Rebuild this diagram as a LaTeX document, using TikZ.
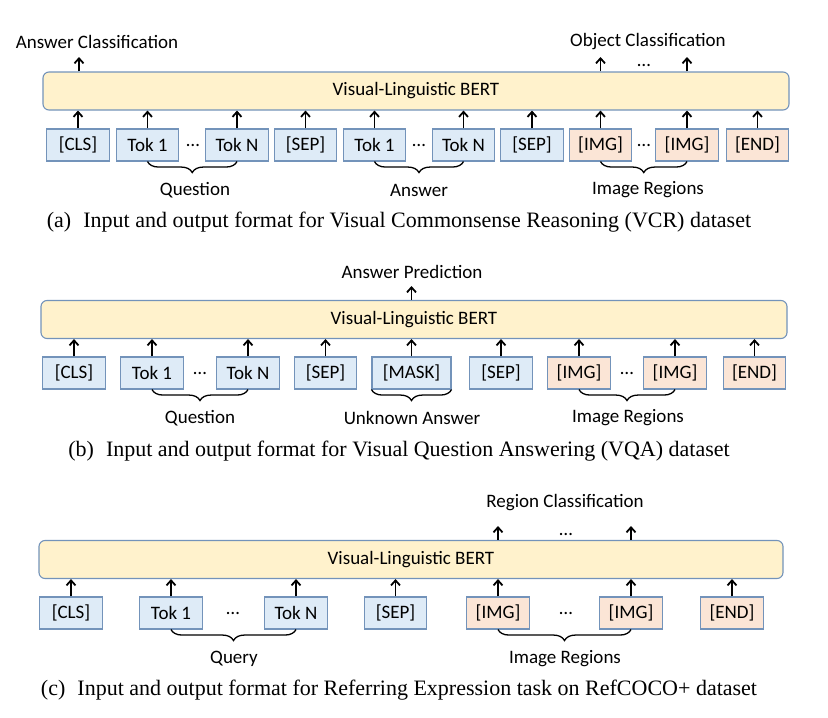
\documentclass[tikz,border=0pt]{standalone}
\usepackage{fontspec}
\setmainfont{Carlito}
\newfontfamily\capfont{Liberation Serif}
\usetikzlibrary{arrows.meta,decorations.pathreplacing}
\definecolor{tokblue}{HTML}{DEEBF7}
\definecolor{tokorange}{HTML}{FBE5D6}
\definecolor{bertfill}{HTML}{FFF2CC}
\definecolor{edgeblue}{HTML}{7393BA}
\tikzset{
  tok/.style={draw=edgeblue, line width=1.1pt, minimum width=62.5pt, minimum height=32pt, inner sep=0pt, font=\fontsize{19}{22}\selectfont},
  tokb/.style={tok, fill=tokblue},
  toko/.style={tok, fill=tokorange},
  bert/.style={draw=edgeblue, line width=1.1pt, fill=bertfill, rounded corners=6pt, minimum height=38pt, inner sep=0pt, font=\fontsize{19}{22}\selectfont},
  lbl/.style={inner sep=0pt, font=\fontsize{19}{22}\selectfont},
  dotsn/.style={inner sep=0pt, font=\fontsize{19}{22}\selectfont},
  arr/.style={line width=1.8pt, -{Straight Barb[length=5pt,width=9pt]}},
  brc/.style={line width=1.3pt, decorate, decoration={brace, mirror, amplitude=11pt}},
  captxt/.style={inner sep=0pt, font=\capfont\fontsize{22}{26}\selectfont}
}
\begin{document}
\begin{tikzpicture}[x=1pt,y=-1pt]
\useasboundingbox (0,0) rectangle (828,718);
% ---------- panel (a)
\node[bert, minimum width=746pt] (bA) at (416,91) {Visual-Linguistic BERT};
\node[tokb] (aCLS) at (78,145) {[CLS]};
\node[tokb] (aT1) at (147.5,145) {Tok 1};
\node[dotsn] (aD1) at (193,145) {…};
\node[tokb] (aTN) at (237,145) {Tok N};
\node[tokb] (aSEP1) at (305.5,145) {[SEP]};
\node[tokb] (aA1) at (374.5,145) {Tok 1};
\node[dotsn] (aD2) at (419,145) {…};
\node[tokb] (aAN) at (463.5,145) {Tok N};
\node[tokb] (aSEP2) at (532,145) {[SEP]};
\node[toko] (aI1) at (600.5,145) {[IMG]};
\node[dotsn] (aD3) at (644,145) {…};
\node[toko] (aIN) at (687,145) {[IMG]};
\node[toko] (aEND) at (757.5,145) {[END]};
\foreach \n in {aCLS,aT1,aTN,aSEP1,aA1,aAN,aSEP2,aI1,aIN,aEND}
  \draw[arr] (\n.north) -- (\n.north |- bA.south);
\coordinate (aO1) at (79,57);
\coordinate (aO2) at (600.5,57);
\coordinate (aO3) at (687,57);
\draw[arr] (aO1 |- bA.north) -- (aO1);
\draw[arr] (aO2 |- bA.north) -- (aO2);
\draw[arr] (aO3 |- bA.north) -- (aO3);
\node[dotsn] (aD4) at (644,65) {…};
\node[lbl] (aLc) at (97,42) {Answer Classification};
\node[lbl] (aLo) at (648,42) {Object Classification};
\draw[brc] (aT1.south) -- (aTN.south);
\draw[brc] (aA1.south) -- (aAN.south);
\draw[brc] (aI1.south) -- (aIN.south);
\node[lbl] (aQ) at (195,190) {Question};
\node[lbl] (aAns) at (419,190) {Answer};
\node[lbl] (aIR) at (648,190) {Image Regions};
\node[captxt] (capA) at (399,222) {(a)\hspace{0.55em}Input and output format for Visual Commonsense Reasoning (VCR) dataset};
% ---------- panel (b)
\node[bert, minimum width=746pt] (bB) at (414,319.5) {Visual-Linguistic BERT};
\node[tokb] (bCLS) at (74,373) {[CLS]};
\node[tokb] (bT1) at (152,373) {Tok 1};
\node[dotsn] (bD1) at (200,373) {…};
\node[tokb] (bTN) at (248,373) {Tok N};
\node[tokb] (bSEP1) at (325.5,373) {[SEP]};
\node[tokb, minimum width=79pt] (bM) at (411.5,373) {[MASK]};
\node[tokb] (bSEP2) at (501,373) {[SEP]};
\node[toko] (bI1) at (579,373) {[IMG]};
\node[dotsn] (bD2) at (627,373) {…};
\node[toko] (bIN) at (675,373) {[IMG]};
\node[toko] (bEND) at (754.5,373) {[END]};
\foreach \n in {bCLS,bT1,bTN,bSEP1,bM,bSEP2,bI1,bIN,bEND}
  \draw[arr] (\n.north) -- (\n.north |- bB.south);
\coordinate (bO1) at (411.5,286);
\draw[arr] (bO1 |- bB.north) -- (bO1);
\node[lbl] (bLp) at (412,272) {Answer Prediction};
\draw[brc] (bT1.south) -- (bTN.south);
\draw[brc] (bM.south west) -- (bM.south east);
\draw[brc] (bI1.south) -- (bIN.south);
\node[lbl] (bQ) at (200,418) {Question};
\node[lbl] (bU) at (412,418) {Unknown Answer};
\node[lbl] (bIR) at (628,418) {Image Regions};
\node[captxt] (capB) at (399,451) {(b)\hspace{0.55em}Input and output format for Visual Question Answering (VQA) dataset};
% ---------- panel (c)
\node[bert, minimum width=744pt] (bC) at (411,559.5) {Visual-Linguistic BERT};
\node[tokb] (cCLS) at (71,613) {[CLS]};
\node[tokb] (cT1) at (171,613) {Tok 1};
\node[dotsn] (cD1) at (233,613) {…};
\node[tokb] (cTN) at (296,613) {Tok N};
\node[tokb] (cSEP) at (395.5,613) {[SEP]};
\node[toko] (cI1) at (498,613) {[IMG]};
\node[dotsn] (cD2) at (566,613) {…};
\node[toko] (cIN) at (631,613) {[IMG]};
\node[toko] (cEND) at (732,613) {[END]};
\foreach \n in {cCLS,cT1,cTN,cSEP,cI1,cIN,cEND}
  \draw[arr] (\n.north) -- (\n.north |- bC.south);
\coordinate (cO1) at (498,526);
\coordinate (cO2) at (631,526);
\draw[arr] (cO1 |- bC.north) -- (cO1);
\draw[arr] (cO2 |- bC.north) -- (cO2);
\node[dotsn] (cD3) at (566,534) {…};
\node[lbl] (cLr) at (565,503) {Region Classification};
\draw[brc] (cT1.south) -- (cTN.south);
\draw[brc] (cI1.south) -- (cIN.south);
\node[lbl] (cQ) at (234,659) {Query};
\node[lbl] (cIR) at (565,659) {Image Regions};
\node[captxt] (capC) at (399,690) {(c)\hspace{0.55em}Input and output format for Referring Expression task on RefCOCO+ dataset};
\end{tikzpicture}
\end{document}
